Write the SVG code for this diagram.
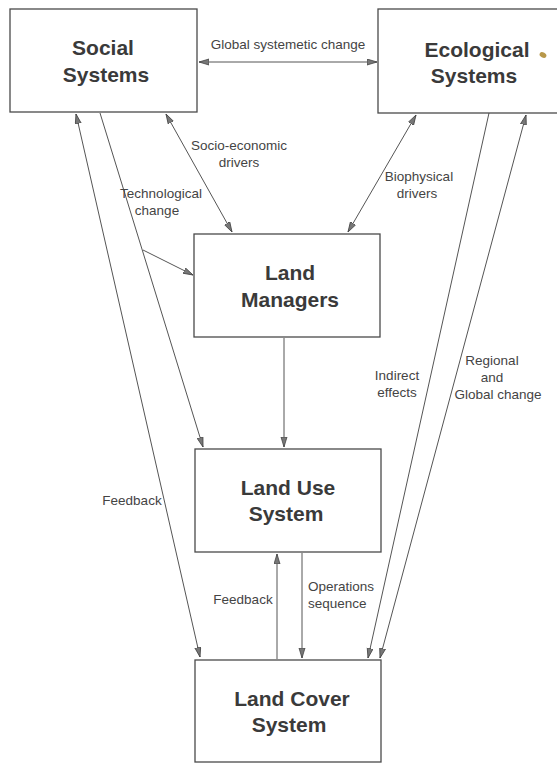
<svg xmlns="http://www.w3.org/2000/svg" width="557" height="763" viewBox="0 0 557 763">
  <style>
    .box { fill: #ffffff; stroke: #4a4a4a; stroke-width: 1.3; }
    .title { font-family: "Liberation Sans", Arial, sans-serif; font-weight: bold; font-size: 21px; fill: #3a3a3a; text-anchor: middle; }
    .lbl { font-family: "Liberation Sans", Arial, sans-serif; font-size: 13.5px; fill: #444444; text-anchor: middle; }
    .lbl.start { text-anchor: start; }
    .link { stroke: #555555; stroke-width: 1; fill: none; }
    .one { marker-end: url(#head); }
    .two { marker-start: url(#head); marker-end: url(#head); }
  </style>
  <defs>
    <marker id="head" markerUnits="userSpaceOnUse" markerWidth="11" markerHeight="8" refX="10" refY="3.5" orient="auto-start-reverse">
      <path d="M0,0.5 L10,3.5 L0,6.5 Z" fill="#777777" stroke="#444444" stroke-width="0.8"/>
    </marker>
  </defs>

  <rect width="557" height="763" fill="#ffffff"/>

  <!-- connectors -->
  <g id="connectors">
    <line class="link two" x1="199" y1="62" x2="377" y2="62"/>
    <line class="link two" x1="166" y1="114" x2="232" y2="232"/>
    <line class="link two" x1="416" y1="115" x2="348" y2="232"/>
    <line class="link two" x1="76" y1="114" x2="200" y2="657"/>
    <line class="link one" x1="100" y1="113" x2="203" y2="447"/>
    <line class="link one" x1="143" y1="250" x2="193" y2="275"/>
    <line class="link one" x1="284" y1="338" x2="284" y2="447"/>
    <line class="link one" x1="277" y1="659" x2="277" y2="554"/>
    <line class="link one" x1="302" y1="553" x2="302" y2="658"/>
    <line class="link one" x1="489" y1="113" x2="368" y2="658"/>
    <line class="link two" x1="526" y1="115" x2="380" y2="658"/>

    <text class="lbl" x="288" y="49">Global systemetic change</text>
    <text class="lbl" x="239" y="150">Socio-economic</text>
    <text class="lbl" x="239" y="167">drivers</text>
    <text class="lbl" x="161" y="198">Technological</text>
    <text class="lbl" x="157" y="215">change</text>
    <text class="lbl" x="419" y="181">Biophysical</text>
    <text class="lbl" x="417" y="198">drivers</text>
    <text class="lbl" x="397" y="380">Indirect</text>
    <text class="lbl" x="397" y="397">effects</text>
    <text class="lbl" x="492" y="365">Regional</text>
    <text class="lbl" x="492" y="382">and</text>
    <text class="lbl" x="498" y="399">Global change</text>
    <text class="lbl" x="132" y="505">Feedback</text>
    <text class="lbl" x="243" y="604">Feedback</text>
    <text class="lbl start" x="308" y="591">Operations</text>
    <text class="lbl start" x="308" y="608">sequence</text>
  </g>

  <g id="social-systems">
    <rect class="box" x="10" y="9" width="187" height="103"/>
    <text class="title" x="103" y="55">Social</text>
    <text class="title" x="106" y="82">Systems</text>
  </g>

  <g id="ecological-systems">
    <rect class="box" x="378" y="9" width="190" height="104"/>
    <text class="title" x="477" y="57">Ecological</text>
    <text class="title" x="474" y="83">Systems</text>
    <ellipse cx="543" cy="55" rx="3.6" ry="2.6" transform="rotate(30 543 55)" fill="#b8984a"/>
  </g>

  <g id="land-managers">
    <rect class="box" x="194" y="234" width="186" height="103"/>
    <text class="title" x="290" y="280">Land</text>
    <text class="title" x="290" y="307">Managers</text>
  </g>

  <g id="land-use-system">
    <rect class="box" x="195" y="449" width="186" height="103"/>
    <text class="title" x="288" y="495">Land Use</text>
    <text class="title" x="286" y="521">System</text>
  </g>

  <g id="land-cover-system">
    <rect class="box" x="195" y="660" width="186" height="102"/>
    <text class="title" x="292" y="706">Land Cover</text>
    <text class="title" x="289" y="732">System</text>
  </g>
</svg>
